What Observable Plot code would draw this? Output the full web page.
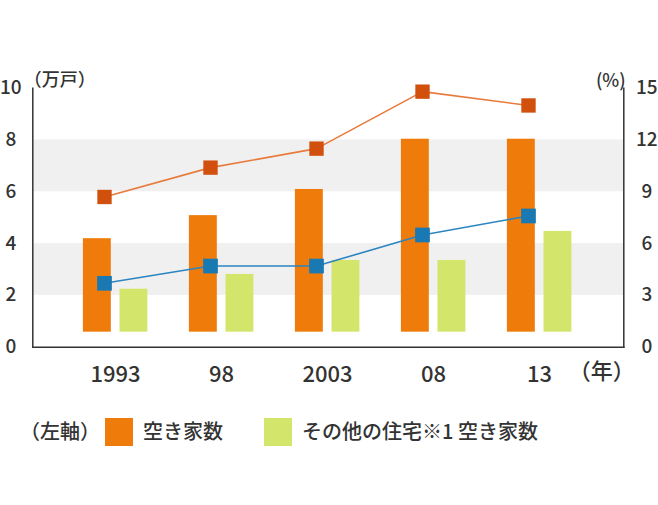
<!DOCTYPE html>
<html><head><meta charset="utf-8">
<script src="https://cdn.jsdelivr.net/npm/d3@7"></script>
<script src="https://cdn.jsdelivr.net/npm/@observablehq/plot@0.6"></script>
<style>
body{margin:0;background:#fff;font-family:"Noto Sans CJK JP","Noto Sans",sans-serif;color:#333}
#legend{position:relative;height:110px;font-size:20px;font-weight:500}
#legend .t{position:absolute;top:22px;line-height:28px;white-space:nowrap}
#legend .sw{position:absolute;top:23px;width:28px;height:28px}
</style></head><body>
<div id="chart"></div>
<div id="legend">
  <span class="t" style="left:20px">（左軸）</span>
  <span class="sw" style="left:105px;background:#ef7b0b"></span>
  <span class="t" style="left:143px">空き家数</span>
  <span class="sw" style="left:264px;background:#d4e56c"></span>
  <span class="t" style="left:302px">その他の住宅※1 空き家数</span>
</div>
<script>
const years = ["1993", "98", "2003", "08", "13"];
const vacant = [4.19, 5.08, 6.09, 8.03, 8.03];        // 万戸 (left axis, as drawn)
const otherVacant = [2.24, 2.81, 3.35, 3.35, 4.47];   // 万戸 (left axis, as drawn)
const vacantRate = [8.7, 10.4, 11.5, 14.8, 14.0];     // % (right axis)
const otherRate = [3.7, 4.7, 4.7, 6.5, 7.6];          // % (right axis)
const barBase = 0.58;
const leftTicks = [0, 2, 4, 6, 8, 10];
const rightTicks = [0, 3, 6, 9, 12, 15];
const bandRanges = [[2, 4], [6, 8]];
const ratio = 15 / 10;

const data = years.map((y, i) => ({
  year: y, vacant: vacant[i], other: otherVacant[i],
  rate: vacantRate[i] / ratio, orate: otherRate[i] / ratio
}));
const font = '"Noto Sans CJK JP","Noto Sans",sans-serif';

const chart = Plot.plot({
  width: 658, height: 395,
  marginLeft: 32.3, marginRight: 34.7, marginTop: 87.7, marginBottom: 48.3,
  style: {fontFamily: font, fontSize: "18px", fontWeight: 500, color: "#333", background: "white", overflow: "visible"},
  x: {type: "band", domain: years, range: [59.8, 593.6], padding: 0, label: null},
  y: {domain: [0, 10], label: null},
  marks: [
    Plot.rect(bandRanges, {y1: d => d[0], y2: d => d[1], fill: "#f0f0f0"}),
    Plot.barY(data, {x: "year", y1: barBase, y2: "vacant", fill: "#ef7b0b", insetLeft: 20.9, insetRight: 57.2}),
    Plot.barY(data, {x: "year", y1: barBase, y2: "other", fill: "#d4e56c", insetLeft: 57.5, insetRight: 20.6}),
    Plot.line(data, {x: "year", y: "rate", stroke: "#e87a3c", strokeWidth: 1.6, dx: -11}),
    Plot.line(data, {x: "year", y: "orate", stroke: "#2a85c0", strokeWidth: 1.6, dx: -11}),
    Plot.dot(data, {x: "year", y: "rate", symbol: "square", r: 8.1, fill: "#d2500e", dx: -11}),
    Plot.dot(data, {x: "year", y: "orate", symbol: "square", r: 8.3, fill: "#1a78b3", dx: -11}),
    Plot.frame({anchor: "left", stroke: "#333", strokeWidth: 1.5}),
    Plot.frame({anchor: "right", stroke: "#333", strokeWidth: 1.5}),
    Plot.frame({anchor: "bottom", stroke: "#333", strokeWidth: 1.5}),
    Plot.axisY(leftTicks, {anchor: "left", tickSize: 0, tickPadding: 22, textAnchor: "middle", fontSize: 19, label: null}),
    Plot.axisY(rightTicks.map(v => v / ratio), {anchor: "right", tickSize: 0, tickPadding: 23, textAnchor: "middle", fontSize: 19, label: null, tickFormat: d => String(Math.round(d * ratio))}),
    Plot.axisX({tickSize: 0, tickPadding: 19, fontSize: 22, label: null}),
    Plot.text(["（万戸）"], {frameAnchor: "top-left", textAnchor: "middle", dx: 27, dy: -15, fontSize: 18, fill: "#333"}),
    Plot.text(["(%)"], {frameAnchor: "top-right", textAnchor: "middle", dx: -13, dy: -14, fontSize: 18, fill: "#333"}),
    Plot.text(["（年）"], {frameAnchor: "bottom-right", textAnchor: "middle", dx: -22, dy: 32, fontSize: 22, fill: "#333"})
  ]
});
document.getElementById("chart").appendChild(chart);
</script>
</body></html>
